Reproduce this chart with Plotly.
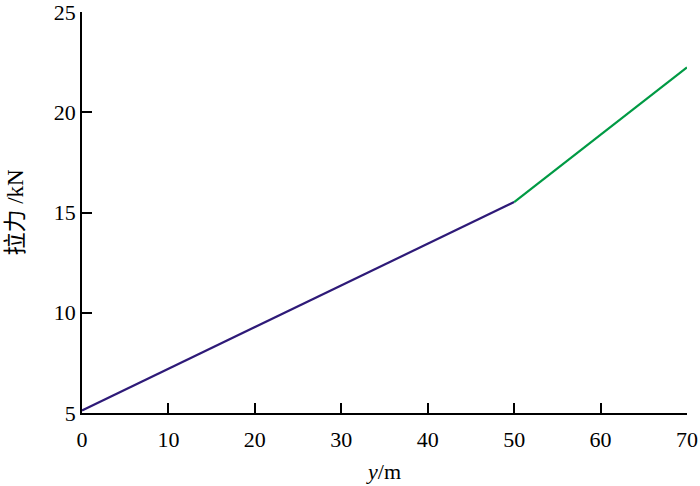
import plotly.graph_objects as go

# depth y (m) and tension (kN), two segments
y_seg1 = [0, 50]
f_seg1 = [5.13, 15.52]
y_seg2 = [50, 70]
f_seg2 = [15.52, 22.24]

x_ticks = [0, 10, 20, 30, 40, 50, 60, 70]
y_ticks = [5, 10, 15, 20, 25]

font_fam = "Liberation Serif, Times New Roman, Noto Sans CJK SC"

fig = go.Figure()
fig.add_trace(go.Scatter(x=y_seg1, y=f_seg1, mode="lines",
                         line=dict(color="#2e1a78", width=2.2), showlegend=False))
fig.add_trace(go.Scatter(x=y_seg2, y=f_seg2, mode="lines",
                         line=dict(color="#009a44", width=2.2), showlegend=False))

fig.update_layout(
    width=700, height=486,
    margin=dict(l=82, r=13, t=12, b=73),
    plot_bgcolor="white", paper_bgcolor="white",
    font=dict(family=font_fam, size=22, color="black"),
    xaxis=dict(range=[0, 70], tickvals=x_ticks, ticks="inside", ticklen=10,
               tickwidth=1.5, tickcolor="black", showline=True, linecolor="black",
               linewidth=1.5, showgrid=False, zeroline=False, automargin=False,
               tickfont=dict(size=22), ticklabeloverflow="allow", ticklabelstandoff=6,
               title=dict(text="<i>y</i>/m", font=dict(size=22), standoff=12)),
    yaxis=dict(range=[5, 25], tickvals=y_ticks, ticks="inside", ticklen=10,
               tickwidth=1.5, tickcolor="black", showline=True, linecolor="black",
               linewidth=1.5, showgrid=False, zeroline=False, automargin=False,
               tickfont=dict(size=22), ticklabeloverflow="allow",
               title=dict(text="拉力 /kN", font=dict(size=23), standoff=24)),
)

# drop the default page margin so the figure sits at the window's corner
fig.write_html("out.html", config={"displayModeBar": False},
               post_script="document.body.style.margin='0';")
